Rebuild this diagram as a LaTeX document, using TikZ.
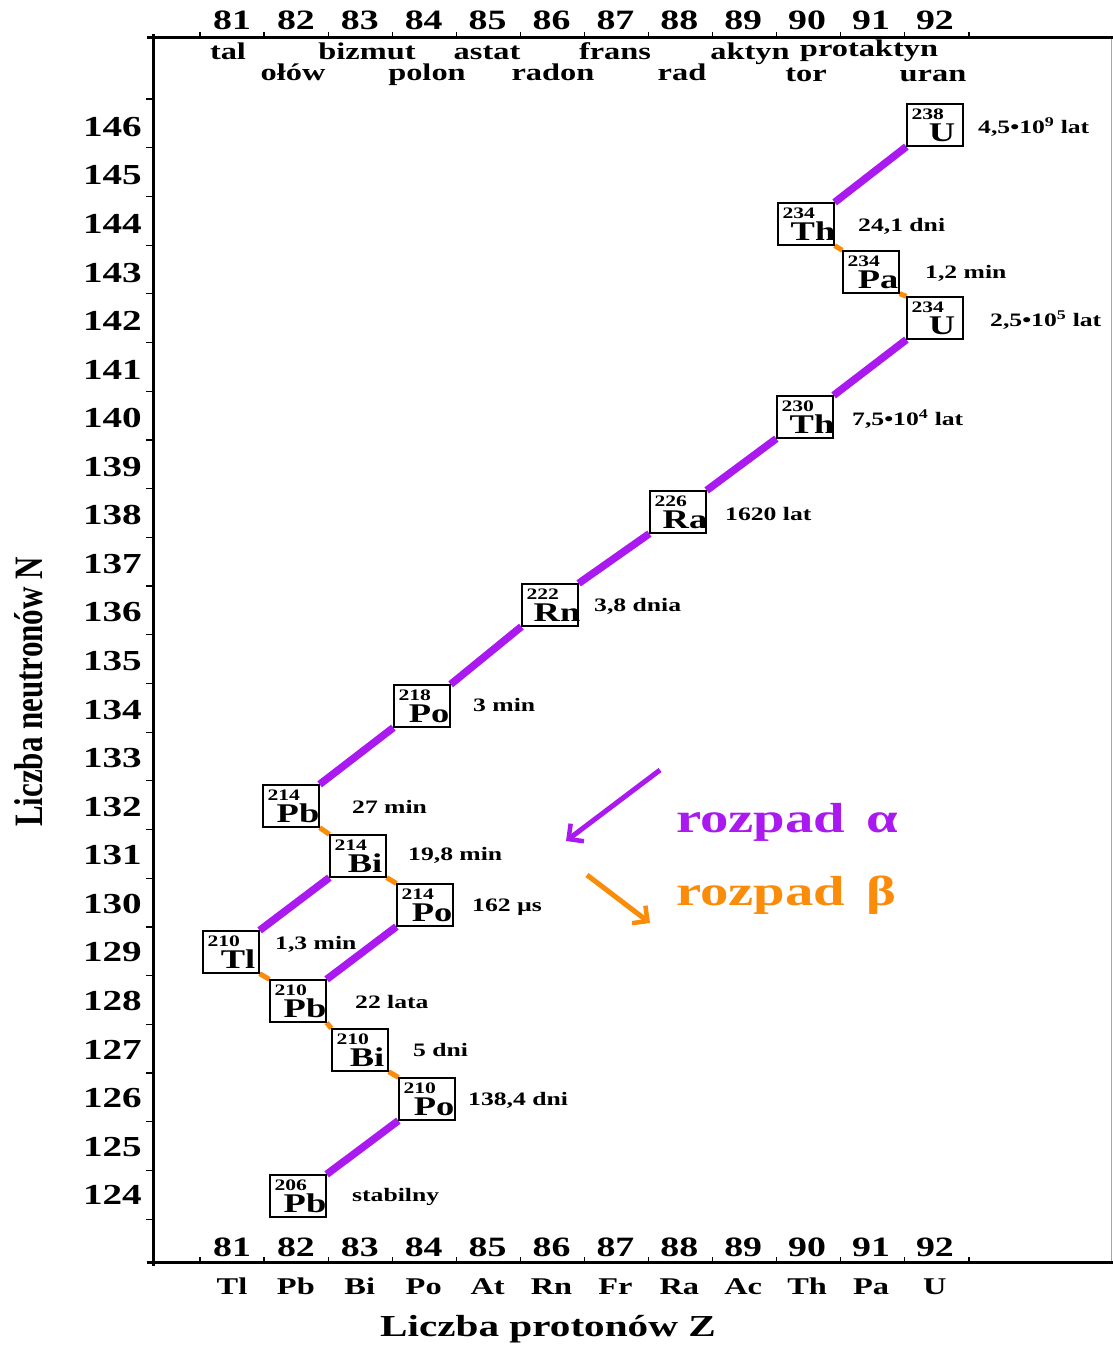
\documentclass[tikz,border=0pt]{standalone}
\usepackage{fontspec}
\setmainfont{Liberation Serif}[FakeStretch=1.35]
\newfontfamily\plainserif{Liberation Serif}
\usetikzlibrary{arrows.meta}
\definecolor{alphac}{RGB}{170,25,240}
\definecolor{betac}{RGB}{250,140,10}
\pgfdeclarelayer{bg}
\pgfsetlayers{bg,main}
\newcommand{\fsz}[1]{\fontsize{#1}{#1}\selectfont}
% name, x, y, mass, symbol, half-life, label x, label y
\newcommand{\isobox}[8]{%
  \node[iso] (#1) at (#2,#3) {};
  \node[massn] (#1m) at ([xshift=5pt,yshift=-5pt]#1.north west) {#4};
  \node[symb] (#1s) at ([xshift=7pt,yshift=5pt]#1.south) {#5};
  \node[half] (#1h) at (#7,#8) {#6};
}
\begin{document}
\begin{tikzpicture}[x=1pt,y=-1pt,
  iso/.style={draw=black, fill=white, line width=1.3pt, minimum width=56pt, minimum height=42pt, inner sep=0pt},
  massn/.style={font=\bfseries\fsz{16}, anchor=north west, inner sep=0pt},
  symb/.style={font=\bfseries\fsz{27}, anchor=base, inner sep=0pt},
  half/.style={font=\bfseries\fsz{19}, anchor=west, inner sep=0pt},
  axnum/.style={font=\bfseries\fsz{29}, inner sep=0pt},
  znum/.style={font=\bfseries\fsz{28}, inner sep=0pt},
  ename/.style={font=\bfseries\fsz{24}, anchor=base, inner sep=0pt},
  aline/.style={alphac, line width=7.5pt},
  bline/.style={betac, line width=5pt},
  axis/.style={black, line width=3pt},
  tick/.style={black, line width=1.2pt},
  legend/.style={font=\bfseries\fsz{42}, anchor=base west, inner sep=0pt}
]
\begin{pgfonlayer}{bg}
\fill[white] (0,0) rectangle (1113,1350);
\end{pgfonlayer}
\useasboundingbox (0,0) rectangle (1113,1350);

% frame and axes
\draw[gray!70, line width=1pt] (1111,37) -- (1111,1262);
\draw[axis] (147,37) -- (1113,37);
\draw[axis] (147,1262) -- (1113,1262);
\draw[axis] (153,34) -- (153,1266);

% ticks on Z axes
\foreach \k in {0,...,12}{
  \draw[tick] ({200+64.08*\k},37) -- ({200+64.08*\k},32);
  \draw[tick] ({200+64.08*\k},1262) -- ({200+64.08*\k},1257);
}
% ticks on N axis
\foreach \k in {0,...,23}{
  \draw[tick] (153,{99+48.7*\k}) -- (146,{99+48.7*\k});
}
% Z numbers
\foreach \z in {81,...,92}{
  \node[znum] (zt\z) at ({232+63.9*(\z-81)},20) {\z};
  \node[znum] (zb\z) at ({232+63.9*(\z-81)},1247) {\z};
}
% N numbers
\foreach \n in {124,...,146}{
  \node[axnum, anchor=east] (n\n) at (142,{127+48.55*(146-\n)}) {\n};
}
% element names at top
\node[ename] (tal) at (228,59) {tal};
\node[ename] (bizmut) at (367,59) {bizmut};
\node[ename] (astat) at (487,59) {astat};
\node[ename] (frans) at (615,59) {frans};
\node[ename] (aktyn) at (750,59) {aktyn};
\node[ename] (protaktyn) at (869,56) {protaktyn};
\node[ename] (olow) at (293,80) {ołów};
\node[ename] (polon) at (427,80) {polon};
\node[ename] (radon) at (553,80) {radon};
\node[ename] (rad) at (682,80) {rad};
\node[ename] (tor) at (806,81) {tor};
\node[ename] (uran) at (933,81) {uran};
% element symbols at bottom
\foreach \s [count=\i from 0] in {Tl,Pb,Bi,Po,At,Rn,Fr,Ra,Ac,Th,Pa,U}{
  \node[ename] (bs\i) at ({232+63.9*\i},1294) {\s};
}
% axis titles
\node[font=\bfseries\fsz{30.5}, anchor=base, inner sep=0pt] (xtitle) at (548,1336) {Liczba protonów Z};
\node[rotate=90, inner sep=0pt] (ytitle) at (29,692) {\scalebox{1}[1.3]{\plainserif\bfseries\fsz{31}Liczba neutronów N}};

% isotopes
\isobox{U238}{935}{125}{238}{U}{4,5•10\textsuperscript{9} lat}{978}{127}
\isobox{Th234}{806}{224}{234}{Th}{24,1 dni}{858}{226}
\isobox{Pa234}{871}{272}{234}{Pa}{1,2 min}{925}{273}
\isobox{U234}{935}{318}{234}{U}{2,5•10\textsuperscript{5} lat}{990}{320}
\isobox{Th230}{805}{417}{230}{Th}{7,5•10\textsuperscript{4} lat}{852}{419}
\isobox{Ra226}{678}{512}{226}{Ra}{1620 lat}{725}{514}
\isobox{Rn222}{550}{605}{222}{Rn}{3,8 dnia}{594}{606}
\isobox{Po218}{422}{706}{218}{Po}{3 min}{473}{705}
\isobox{Pb214}{291}{806}{214}{Pb}{27 min}{352}{807}
\isobox{Bi214}{358}{856}{214}{Bi}{19,8 min}{408}{855}
\isobox{Po214}{425}{905}{214}{Po}{162 µs}{472}{907}
\isobox{Tl210}{231}{952}{210}{Tl}{1,3 min}{275}{944}
\isobox{Pb210}{298}{1001}{210}{Pb}{22 lata}{355}{1002}
\isobox{Bi210}{360}{1050}{210}{Bi}{5 dni}{413}{1050}
\isobox{Po210}{427}{1099}{210}{Po}{138,4 dni}{468}{1100}
\isobox{Pb206}{298}{1196}{206}{Pb}{stabilny}{352}{1197}

% decay connectors
\begin{pgfonlayer}{bg}
\draw[aline] (U238.south west) -- (Th234.north east);
\draw[bline] (Th234.south east) -- (Pa234.north west);
\draw[bline] (Pa234.south east) -- (U234.north west);
\draw[aline] (U234.south west) -- (Th230.north east);
\draw[aline] (Th230.south west) -- (Ra226.north east);
\draw[aline] (Ra226.south west) -- (Rn222.north east);
\draw[aline] (Rn222.south west) -- (Po218.north east);
\draw[aline] (Po218.south west) -- (Pb214.north east);
\draw[bline] (Pb214.south east) -- (Bi214.north west);
\draw[bline] (Bi214.south east) -- (Po214.north west);
\draw[aline] (Bi214.south west) -- (Tl210.north east);
\draw[aline] (Po214.south west) -- (Pb210.north east);
\draw[bline] (Tl210.south east) -- (Pb210.north west);
\draw[bline] (Pb210.south east) -- (Bi210.north west);
\draw[bline] (Bi210.south east) -- (Po210.north west);
\draw[aline] (Po210.south west) -- (Pb206.north east);
\end{pgfonlayer}

% legend
\coordinate (aS) at (660,770);
\coordinate (aE) at (566,841);
\coordinate (bS) at (587,875);
\coordinate (bE) at (650,923);
\draw[alphac, line width=5pt, -{Straight Barb[length=11pt,width=22pt,line width=4.5pt]}] (aS) -- (aE);
\draw[betac, line width=5pt, -{Straight Barb[length=11pt,width=22pt,line width=4.5pt]}] (bS) -- (bE);
\node[legend, text=alphac] (la) at (676,832) {rozpad\, α};
\node[legend, text=betac] (lb) at (676,905) {rozpad\, β};
\end{tikzpicture}
\end{document}
